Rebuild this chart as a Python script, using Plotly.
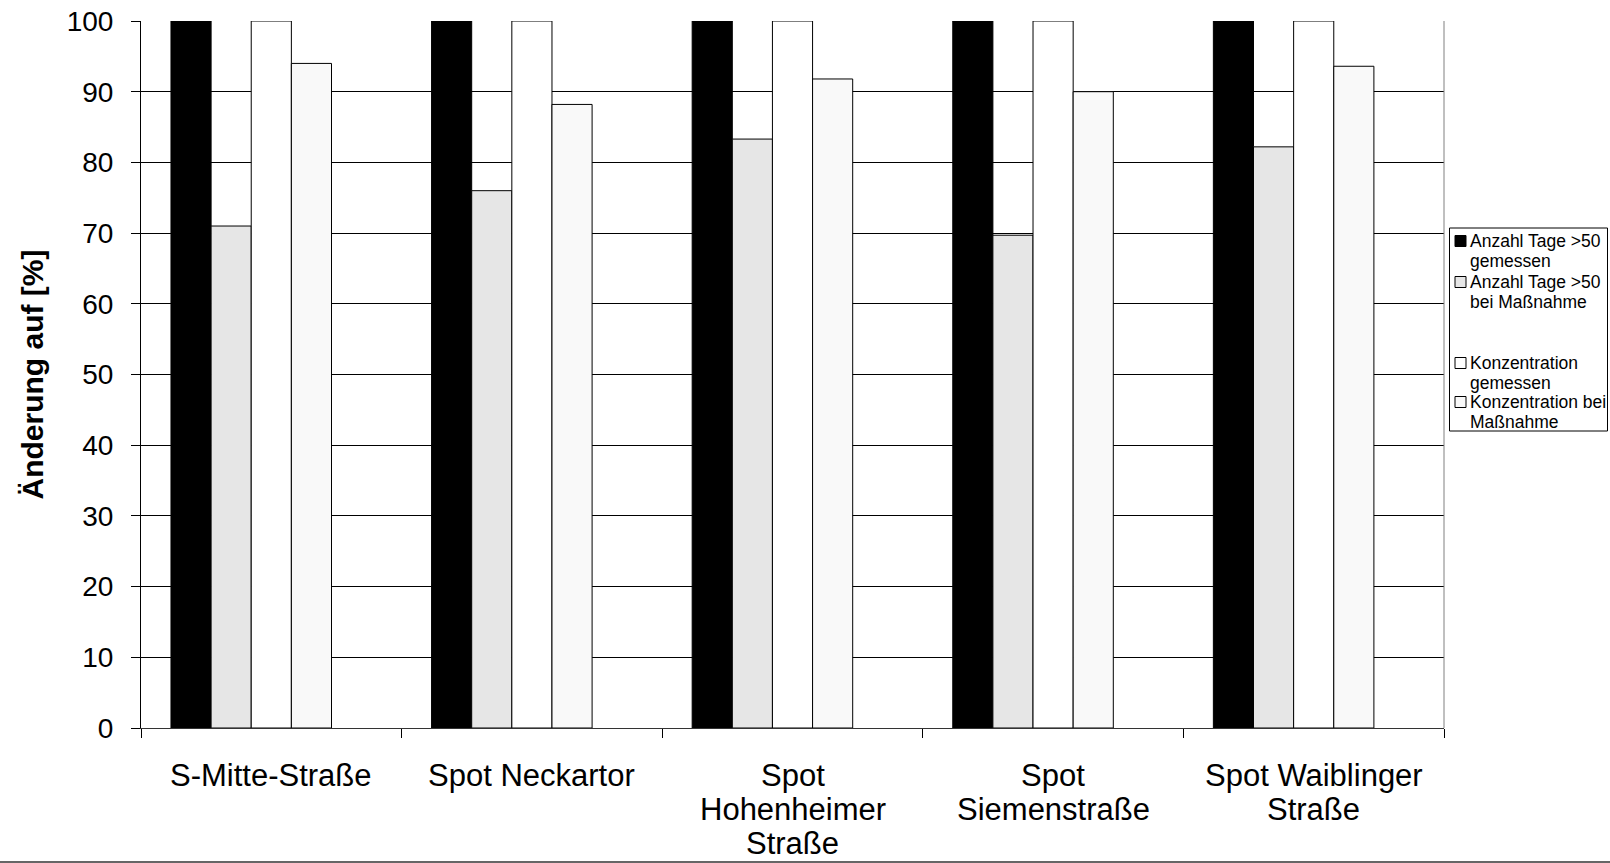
import plotly.graph_objects as go

# ---------------- data ----------------
categories = [
    "S-Mitte-Straße",
    "Spot Neckartor",
    "Spot<br>Hohenheimer<br>Straße",
    "Spot<br>Siemenstraße",
    "Spot Waiblinger<br>Straße",
]
tage_gemessen = [100, 100, 100, 100, 100]
tage_massnahme = [71.0, 76.0, 83.3, 69.7, 82.2]
konz_gemessen = [100, 100, 100, 100, 100]
konz_massnahme = [94.0, 88.2, 91.8, 90.0, 93.6]
blank_series = [0, 0, 0, 0, 0]

series_names = [
    "Anzahl Tage >50 gemessen",
    "Anzahl Tage >50 bei Maßnahme",
    "Konzentration gemessen",
    "Konzentration bei Maßnahme",
    " ",
]
legend_lines = [
    ["Anzahl Tage >50", "gemessen"],
    ["Anzahl Tage >50", "bei Maßnahme"],
    [],
    ["Konzentration", "gemessen"],
    ["Konzentration bei", "Maßnahme"],
]
legend_colors = ["#000000", "#e6e6e6", None, "#ffffff", "#f9f9f9"]
y_ticks = [0, 10, 20, 30, 40, 50, 60, 70, 80, 90, 100]

# ---------------- layout geometry (page pixels) ----------------
W, H = 1610, 863
L, R, T, B = 141, 1444, 21, 728          # plot area in page pixels
FONT = "Liberation Sans, Arial, sans-serif"


def xp(px):
    return (px - L) / (R - L)


def yp(py):
    return (B - py) / (B - T)


fig = go.Figure()
bar_values = [tage_gemessen, tage_massnahme, konz_gemessen, konz_massnahme, blank_series]
bar_colors = ["#000000", "#e6e6e6", "#ffffff", "#f9f9f9", "rgba(0,0,0,0)"]
for name, vals, col in zip(series_names, bar_values, bar_colors):
    blank = col.startswith("rgba")
    fig.add_trace(go.Bar(
        x=categories, y=vals, name=name,
        marker=dict(color=col, line=dict(color="rgba(0,0,0,0)" if blank else "#000000",
                                         width=0 if blank else 1)),
        showlegend=False,
        hoverinfo="skip" if blank else None,
    ))

shapes = []
annotations = []

# category labels (one text per line, Excel-like line spacing)
for cat in categories:
    for i, ln in enumerate(cat.split("<br>")):
        annotations.append(dict(text=ln, xref="x", yref="paper", x=cat, y=yp(775 + 34.5 * i),
                                xanchor="center", yanchor="middle", showarrow=False,
                                font=dict(family=FONT, size=31, color="#000000")))

# legend box (manual, Excel-like)
shapes.append(dict(type="rect", xref="paper", yref="paper",
                   x0=xp(1449.5), x1=xp(1607.5), y0=yp(431), y1=yp(228),
                   line=dict(color="#000000", width=1), fillcolor="#ffffff", layer="above"))
entry_y = [241, 282, 322, 363, 402]
for lines, col, ey in zip(legend_lines, legend_colors, entry_y):
    if not lines:
        continue
    shapes.append(dict(type="rect", xref="paper", yref="paper",
                       x0=xp(1455), x1=xp(1466), y0=yp(ey + 5.5), y1=yp(ey - 5.5),
                       line=dict(color="#000000", width=1), fillcolor=col, layer="above"))
    for i, ln in enumerate(lines):
        annotations.append(dict(text=ln, xref="paper", yref="paper",
                                x=xp(1468), y=yp(ey + 20 * i), xanchor="left", yanchor="middle",
                                showarrow=False, font=dict(family=FONT, size=17.5, color="#000000")))

# right border of plot area
shapes.append(dict(type="line", xref="paper", yref="paper", x0=1, x1=1, y0=0, y1=1,
                   line=dict(color="#808080", width=1)))
# bottom border line of picture
shapes.append(dict(type="line", xref="paper", yref="paper", x0=xp(0), x1=xp(W), y0=yp(862), y1=yp(862),
                   line=dict(color="#333333", width=1.5)))

fig.update_layout(
    width=W, height=H,
    margin=dict(l=L, r=W - R, t=T, b=H - B, autoexpand=False),
    paper_bgcolor="#ffffff", plot_bgcolor="#ffffff",
    barmode="group", bargap=0.23, bargroupgap=0,
    showlegend=False,
    font=dict(family=FONT, color="#000000"),
    shapes=shapes, annotations=annotations,
)
fig.update_xaxes(
    type="category", tickson="boundaries", ticks="outside", ticklen=9, tickcolor="#000000",
    showline=True, linecolor="#333333", linewidth=1, showgrid=False,
    showticklabels=False, automargin=False,
)
fig.update_yaxes(
    range=[0, 100], tickvals=y_ticks, ticks="outside", ticklen=9, tickcolor="#000000",
    showline=True, linecolor="#000000", linewidth=1,
    showgrid=True, gridcolor="#000000", gridwidth=1, zeroline=False,
    tickfont=dict(family=FONT, size=28, color="#000000"), ticklabelstandoff=12,
    ticklabeloverflow="allow",
    title=dict(text="Änderung auf [%]", font=dict(family=FONT, size=30, color="#000000", weight="bold"),
               standoff=14),
    automargin=False,
)

fig.write_html("out.html",
               config={"displayModeBar": False},
               post_script="document.body.style.margin='0px';document.body.style.overflow='hidden';")
